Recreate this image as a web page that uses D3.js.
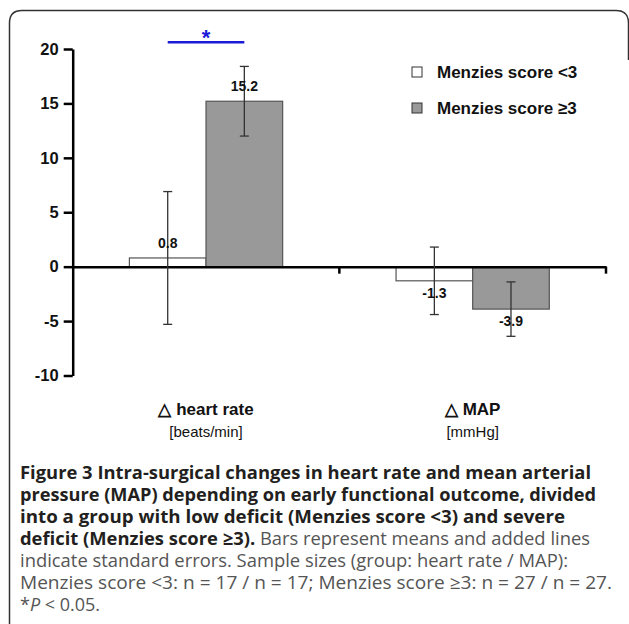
<!DOCTYPE html>
<html>
  <head>
    <meta charset="utf-8" />
    <title>Figure 3</title>
    <script src="https://d3js.org/d3.v7.min.js"></script>
    <style>
      body { margin: 0; background: #fff; }
    </style>
  </head>
  <body>
    <svg width="629" height="624"></svg>

    <script>
      // Chart values
      const categories = ["heart rate", "MAP"];
      const categoryLabels = ["\u25B3 heart rate", "\u25B3 MAP"];
      const unitLabels = ["[beats/min]", "[mmHg]"];
      const groups = ["Menzies score <3", "Menzies score \u22653"];
      const lowDeficit = [0.8, -1.3];
      const lowDeficitSE = [6.1, 3.1];
      const severeDeficit = [15.2, -3.9];
      const severeDeficitSE = [3.2, 2.5];
      const yTicks = [-10, -5, 0, 5, 10, 15, 20];

      const colors = ["#ffffff", "#999999"];

      // Build rows for drawing
      const rows = [];
      categories.forEach((c, i) => {
        rows.push({ cat: c, group: groups[0], value: lowDeficit[i], se: lowDeficitSE[i] });
        rows.push({ cat: c, group: groups[1], value: severeDeficit[i], se: severeDeficitSE[i] });
      });

      const svg = d3.select("svg");
      const font = "Liberation Sans, Arial, sans-serif";

      // Frame with rounded top corners (open at the bottom)
      svg.append("path")
        .attr("d", "M9.5,624 V23 Q9.5,10.5 22,10.5 H616 Q628.5,10.5 628.5,23 V60")
        .attr("fill", "none")
        .attr("stroke", "#333")
        .attr("stroke-width", 1.5);

      // Scales
      const y = d3.scaleLinear().domain([-10, 20]).range([375.5, 49]);
      const x = d3.scaleBand().domain(categories).range([72.7, 606]).padding(0);
      const xSub = d3.scaleBand().domain(groups).range([0, x.bandwidth()]).paddingInner(0).paddingOuter(0.74);

      // Y axis
      const yAxis = svg.append("g")
        .attr("transform", "translate(72.7,0)")
        .call(d3.axisLeft(y).tickValues(yTicks).tickFormat(d => String(d)).tickSize(9).tickSizeOuter(0).tickPadding(5));
      yAxis.select(".domain").attr("stroke", "#000").attr("stroke-width", 2.5);
      yAxis.selectAll(".tick line").attr("stroke", "#000").attr("stroke-width", 2.5);
      yAxis.selectAll(".tick text")
        .attr("font-family", font)
        .attr("font-size", 16.5)
        .attr("font-weight", "bold")
        .attr("fill", "#111");

      // Bars
      svg.append("g")
        .selectAll("rect")
        .data(rows)
        .join("rect")
        .attr("x", d => x(d.cat) + xSub(d.group))
        .attr("y", d => y(Math.max(0, d.value)))
        .attr("width", xSub.bandwidth())
        .attr("height", d => Math.abs(y(d.value) - y(0)))
        .attr("fill", d => colors[groups.indexOf(d.group)])
        .attr("stroke", "#555")
        .attr("stroke-width", 1.2);

      // X axis at zero
      const xAxis = svg.append("g")
        .attr("transform", `translate(0,${y(0)})`)
        .call(d3.axisBottom(x).tickSize(0).tickFormat(""));
      xAxis.select(".domain").attr("stroke", "#000").attr("stroke-width", 2.5);
      xAxis.selectAll(".tick").remove();
      // ticks between categories and at the end
      const boundaries = categories.map(c => x(c) + x.bandwidth());
      xAxis.selectAll("line.bt")
        .data(boundaries)
        .join("line")
        .attr("class", "bt")
        .attr("x1", d => d).attr("x2", d => d)
        .attr("y1", 0).attr("y2", 7)
        .attr("stroke", "#000")
        .attr("stroke-width", 2.5);

      // Error bars
      const cx = d => x(d.cat) + xSub(d.group) + xSub.bandwidth() / 2;
      const err = svg.append("g").attr("stroke", "#333").attr("stroke-width", 1.3);
      err.selectAll("line.v")
        .data(rows)
        .join("line")
        .attr("class", "v")
        .attr("x1", cx).attr("x2", cx)
        .attr("y1", d => y(d.value + d.se))
        .attr("y2", d => y(d.value - d.se));
      err.selectAll("line.top")
        .data(rows)
        .join("line")
        .attr("class", "top")
        .attr("x1", d => cx(d) - 4.5).attr("x2", d => cx(d) + 4.5)
        .attr("y1", d => y(d.value + d.se)).attr("y2", d => y(d.value + d.se));
      err.selectAll("line.bot")
        .data(rows)
        .join("line")
        .attr("class", "bot")
        .attr("x1", d => cx(d) - 4.5).attr("x2", d => cx(d) + 4.5)
        .attr("y1", d => y(d.value - d.se)).attr("y2", d => y(d.value - d.se));

      // Value labels
      svg.append("g")
        .selectAll("text")
        .data(rows)
        .join("text")
        .attr("x", cx)
        .attr("y", d => d.value >= 0 ? y(d.value) - 10 : y(d.value) + 17)
        .attr("text-anchor", "middle")
        .attr("font-family", font)
        .attr("font-size", 14)
        .attr("font-weight", "bold")
        .attr("fill", "#111")
        .text(d => d.value.toFixed(1));

      // Significance bracket
      const sig = rows.filter(d => d.cat === categories[0]);
      svg.append("line")
        .attr("x1", cx(sig[0])).attr("x2", cx(sig[1]))
        .attr("y1", 42.3).attr("y2", 42.3)
        .attr("stroke", "#1a1ad8")
        .attr("stroke-width", 2.5);
      svg.append("text")
        .attr("x", (cx(sig[0]) + cx(sig[1])) / 2)
        .attr("y", 45)
        .attr("text-anchor", "middle")
        .attr("font-family", font)
        .attr("font-size", 22)
        .attr("font-weight", "bold")
        .attr("fill", "#1a1ad8")
        .text("*");

      // Legend
      const legend = svg.append("g").attr("transform", "translate(412,67)");
      groups.forEach((g, i) => {
        legend.append("rect")
          .attr("x", 0).attr("y", i * 36)
          .attr("width", 10).attr("height", 10)
          .attr("fill", colors[i])
          .attr("stroke", "#333")
          .attr("stroke-width", 1);
        legend.append("text")
          .attr("x", 25).attr("y", i * 36 + 11)
          .attr("font-family", font)
          .attr("font-size", 17)
          .attr("font-weight", "bold")
          .attr("fill", "#111")
          .text(g);
      });

      // Category labels
      svg.append("g")
        .selectAll("text")
        .data(categories)
        .join("text")
        .attr("x", d => x(d) + x.bandwidth() / 2)
        .attr("y", 415)
        .attr("text-anchor", "middle")
        .attr("font-family", font)
        .attr("font-size", 17)
        .attr("font-weight", "bold")
        .attr("fill", "#111")
        .text((d, i) => categoryLabels[i]);
      svg.append("g")
        .selectAll("text")
        .data(categories)
        .join("text")
        .attr("x", d => x(d) + x.bandwidth() / 2)
        .attr("y", 437)
        .attr("text-anchor", "middle")
        .attr("font-family", font)
        .attr("font-size", 15)
        .attr("fill", "#111")
        .text((d, i) => unitLabels[i]);

      // Caption
      const caption = [
        [["b", "Figure 3 Intra-surgical changes in heart rate and mean arterial"]],
        [["b", "pressure (MAP) depending on early functional outcome, divided"]],
        [["b", "into a group with low deficit (Menzies score <3) and severe"]],
        [["b", "deficit (Menzies score \u22653)."], ["r", " Bars represent means and added lines"]],
        [["r", "indicate standard errors. Sample sizes (group: heart rate / MAP):"]],
        [["r", "Menzies score <3: n = 17 / n = 17; Menzies score \u22653: n = 27 / n = 27."]],
        [["r", "*"], ["i", "P"], ["r", " < 0.05."]]
      ];
      const captionWidths = [571, 576, 545, 570, 548, 592, 0];
      const cap = svg.append("g").attr("font-family", "Open Sans, Noto Sans, sans-serif").attr("font-size", 18);
      caption.forEach((line, i) => {
        const t = cap.append("text")
          .attr("x", 20)
          .attr("y", 479 + i * 22);
        if (captionWidths[i]) {
          t.attr("textLength", captionWidths[i]).attr("lengthAdjust", "spacingAndGlyphs");
        }
        line.forEach(seg => {
          t.append("tspan")
            .attr("font-weight", seg[0] === "b" ? "bold" : "normal")
            .attr("font-style", seg[0] === "i" ? "italic" : "normal")
            .attr("fill", seg[0] === "b" ? "#231f20" : "#555")
            .text(seg[1]);
        });
      });
    </script>
  </body>
</html>
